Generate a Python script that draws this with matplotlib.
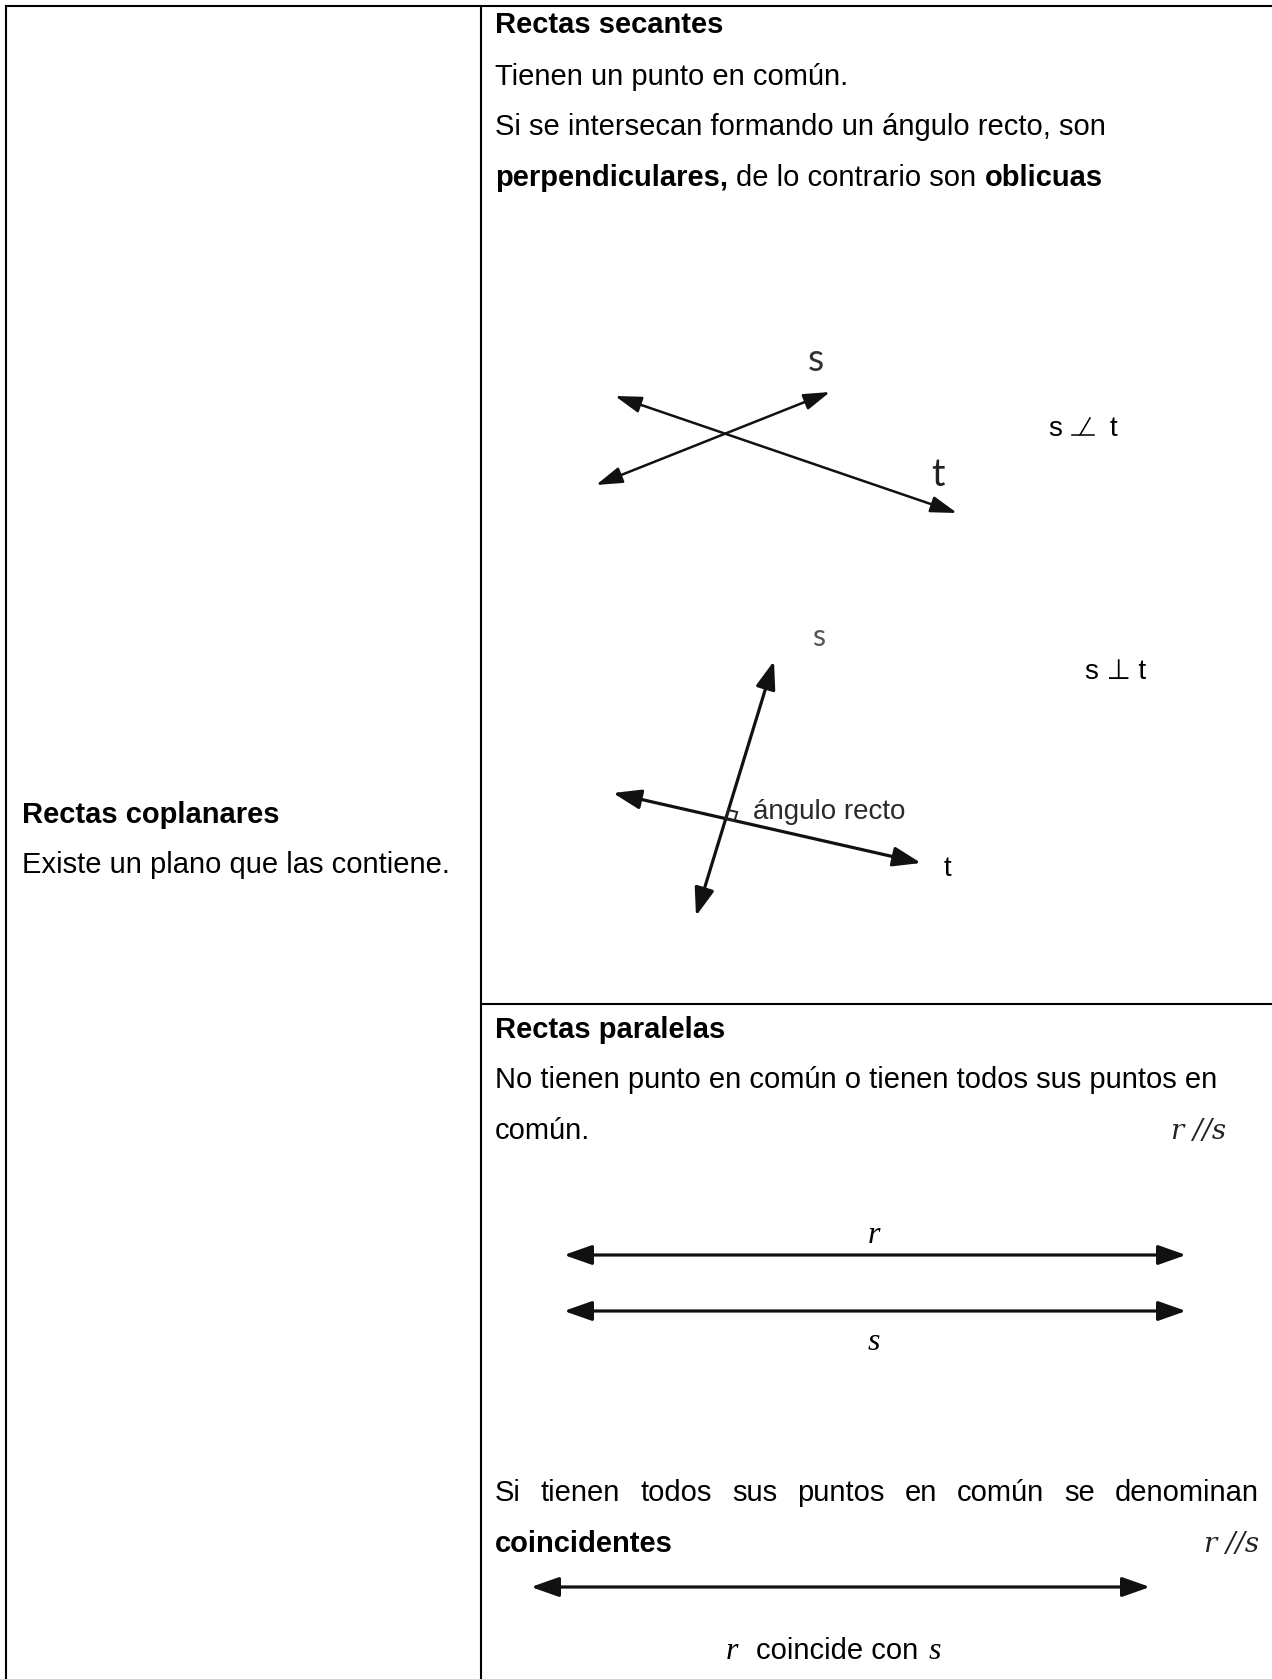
import numpy as np
import matplotlib
matplotlib.use("Agg")
import matplotlib.pyplot as plt
from matplotlib.patches import FancyArrowPatch, Polygon

# ---- content -------------------------------------------------------------
left_title = "Rectas coplanares"
left_body = "Existe un plano que las contiene."

secantes_title = "Rectas secantes"
secantes_lines = ["Tienen un punto en común.",
                  "Si se intersecan formando un ángulo recto, son"]
secantes_runs = [("perpendiculares,", "bold"), ("de lo contrario son", "normal"),
                 ("oblicuas", "bold")]

paralelas_title = "Rectas paralelas"
paralelas_lines = ["No tienen punto en común o tienen todos sus puntos en",
                   "común."]
coinc_line = "Si tienen todos sus puntos en común se denominan"
coinc_word = "coincidentes"

# line endpoints of the diagrams (pixel units of the page)
oblique_t = [(615, 396), (957, 513)]
oblique_s = [(596, 485), (830, 392)]
perp_t = [(613, 793), (921, 863)]
perp_s = [(696, 916), (774, 661)]
parallel_r = [(564, 1255), (1186, 1255)]
parallel_s = [(564, 1311), (1186, 1311)]
coincident = [(531, 1587), (1150, 1587)]

W, H = 1272, 1679
fig = plt.figure(figsize=(W / 100, H / 100), dpi=100)
ax = fig.add_axes([0, 0, 1, 1])
ax.set_xlim(0, W)
ax.set_ylim(H, 0)
ax.axis("off")
rend = fig.canvas.get_renderer()

SANS = "Liberation Sans"
MATH = "DejaVu Serif"
FS = 21

# ---- table ---------------------------------------------------------------
lw = 1.5
ax.plot([6, W], [6, 6], color="black", lw=lw)
ax.plot([6, 6], [6, H], color="black", lw=lw)
ax.plot([481, 481], [6, H], color="black", lw=lw)
ax.plot([481, W], [1004, 1004], color="black", lw=lw)


def width(t):
    return t.get_window_extent(renderer=rend).width


def space_w(weight):
    a = ax.text(0, -100, "x x", fontsize=FS, family=SANS, weight=weight)
    b = ax.text(0, -100, "xx", fontsize=FS, family=SANS, weight=weight)
    w = width(a) - width(b)
    a.remove(); b.remove()
    return w


def runs(x, y, parts):
    for txt, weight in parts:
        t = ax.text(x, y, txt, fontsize=FS, family=SANS, weight=weight,
                    va="baseline", ha="left", color="black")
        x += width(t) + space_w(weight)


def justified(x0, x1, y, line):
    words = line.split()
    ts = [ax.text(0, y, w, fontsize=FS, family=SANS, va="baseline")
          for w in words]
    ws = [width(t) for t in ts]
    gap = (x1 - x0 - sum(ws)) / (len(words) - 1)
    x = x0
    for t, w in zip(ts, ws):
        t.set_x(x)
        x += w + gap


# ---- left column -----------------------------------------------------------
ax.text(22, 823, left_title, fontsize=FS, family=SANS, weight="bold", va="baseline")
ax.text(22, 873, left_body, fontsize=FS, family=SANS, va="baseline")

# ---- rectas secantes -------------------------------------------------------
XR = 495
ax.text(XR, 33, secantes_title, fontsize=FS, family=SANS, weight="bold", va="baseline")
ax.text(XR, 85, secantes_lines[0], fontsize=FS, family=SANS, va="baseline")
ax.text(XR, 135, secantes_lines[1], fontsize=FS, family=SANS, va="baseline")
runs(XR, 186, secantes_runs)


def arrow_line(p, q, lw, hl, hw, color="#111111"):
    a = FancyArrowPatch(p, q, arrowstyle=f"<|-|>,head_length={hl},head_width={hw}",
                        mutation_scale=1, lw=lw, color=color,
                        shrinkA=0, shrinkB=0)
    ax.add_patch(a)


arrow_line(*oblique_t, 1.8, 16, 5)
arrow_line(*oblique_s, 1.8, 16, 5)
ax.text(816, 360, "s", fontsize=27, family="Lato", color="#333333", ha="center", va="center")
ax.text(938, 475, "t", fontsize=27, family="Lato", color="#222222", ha="center", va="center")

# not perpendicular symbol
ax.text(1055, 436, "s", fontsize=20, family=SANS, ha="center", va="baseline")
ax.plot([1072, 1094], [435, 435], color="black", lw=1.1)
ax.plot([1080, 1090], [435, 418], color="black", lw=1.1)
ax.text(1113, 436, "t", fontsize=20, family=SANS, ha="center", va="baseline")

arrow_line(*perp_t, 2.3, 17, 6)
arrow_line(*perp_s, 2.3, 17, 6)

# right-angle marker at the intersection
p1, p2 = np.array(perp_t, float)
q1, q2 = np.array(perp_s, float)
A = np.array([p2 - p1, q1 - q2]).T
tt = np.linalg.solve(A, q1 - p1)
cross = p1 + tt[0] * (p2 - p1)
u = (p2 - p1) / np.linalg.norm(p2 - p1)
v = (q2 - q1) / np.linalg.norm(q2 - q1)
sq = 9
ax.add_patch(Polygon([cross, cross + sq * u, cross + sq * (u + v), cross + sq * v],
                     closed=True, fill=False, lw=1.4, ec="#222222"))
ax.text(753, 819, "ángulo recto", fontsize=20, family=SANS, color="#2a2a2a", va="baseline")
ax.text(819, 637, "s", fontsize=22, family="Lato", color="#555555", ha="center", va="center")
ax.text(947, 876, "t", fontsize=20, family=SANS, color="black", ha="center", va="baseline")
ax.text(1116, 679, "s ⊥ t", fontsize=20, family=[SANS, "DejaVu Sans"], ha="center", va="baseline")

# ---- rectas paralelas ------------------------------------------------------
ax.text(XR, 1038, paralelas_title, fontsize=FS, family=SANS, weight="bold", va="baseline")
ax.text(XR, 1088, paralelas_lines[0], fontsize=FS, family=SANS, va="baseline")
ax.text(XR, 1139, paralelas_lines[1], fontsize=FS, family=SANS, va="baseline")
ax.text(1226, 1139, "r //s", fontsize=20, family=MATH, style="italic",
        ha="right", va="baseline", color="#222222")

arrow_line(*parallel_r, 2.3, 17, 6)
arrow_line(*parallel_s, 2.3, 17, 6)
ax.text(874, 1243, "r", fontsize=23, family="Liberation Serif", style="italic",
        ha="center", va="baseline")
ax.text(874, 1350, "s", fontsize=23, family="Liberation Serif", style="italic",
        ha="center", va="baseline")

justified(XR, 1259, 1501, coinc_line)
ax.text(XR, 1552, coinc_word, fontsize=FS, family=SANS, weight="bold", va="baseline")
ax.text(1259, 1552, "r //s", fontsize=20, family=MATH, style="italic",
        ha="right", va="baseline", color="#222222")

arrow_line(*coincident, 2.3, 17, 6)
ax.text(732, 1659, "r", fontsize=23, family="Liberation Serif", style="italic",
        ha="center", va="baseline")
ax.text(756, 1659, "coincide con", fontsize=FS, family=SANS, va="baseline")
ax.text(929, 1659, "s", fontsize=23, family="Liberation Serif", style="italic",
        ha="left", va="baseline")

fig.savefig("out.png", dpi=100)
